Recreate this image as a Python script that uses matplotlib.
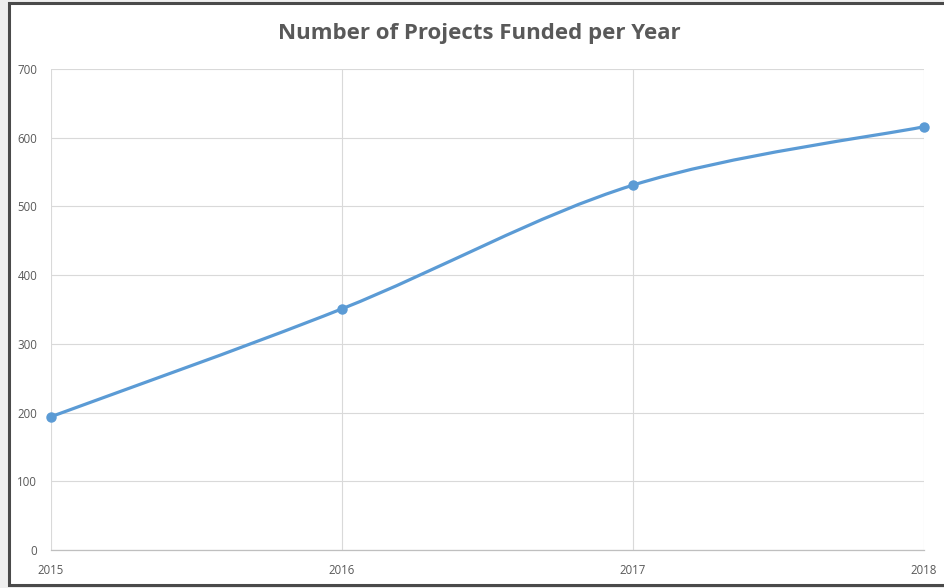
import matplotlib.pyplot as plt
from matplotlib.patches import Rectangle, PathPatch
from matplotlib.path import Path
import numpy as np

years = [2015, 2016, 2017, 2018]
projects = [194, 351, 531, 616]
y_ticks = [0, 100, 200, 300, 400, 500, 600, 700]

line_color = '#5B9BD5'
text_color = '#595959'

plt.rcParams['font.family'] = ['Open Sans', 'DejaVu Sans']

fig = plt.figure(figsize=(9.44, 5.88), dpi=100, facecolor='#efefef')

# dark frame around the chart area (right edge runs off the picture)
frame = Rectangle((9 / 944, 3 / 588), 1.0, 582 / 588, transform=fig.transFigure,
                  facecolor='white', edgecolor='#4a4a4a', linewidth=2.2, zorder=-10)
fig.add_artist(frame)

ax = fig.add_axes([51 / 944, 1 - 550 / 588, (924 - 51) / 944, (550 - 69) / 588])
ax.set_zorder(5)
ax.set_facecolor('white')
ax.set_xlim(years[0], years[-1])
ax.set_ylim(0, 700)
ax.set_xticks(years)
ax.set_yticks(y_ticks)
ax.grid(True, color='#d9d9d9', linewidth=0.8)
ax.set_axisbelow(True)
for side in ['left', 'right', 'top']:
    ax.spines[side].set_visible(False)
ax.spines['bottom'].set_color('#bfbfbf')
ax.spines['bottom'].set_linewidth(0.9)
ax.tick_params(length=0, labelsize=8.3, labelcolor=text_color)
ax.tick_params(axis='x', pad=10)
ax.tick_params(axis='y', pad=10)

# smoothed line like Excel (bezier segments through the data points)
x = np.array(years, dtype=float)
y = np.array(projects, dtype=float)
pts = np.column_stack([x, y])
verts = [pts[0]]
codes = [Path.MOVETO]
n = len(pts)
for i in range(n - 1):
    p0 = pts[max(i - 1, 0)]
    p1 = pts[i]
    p2 = pts[i + 1]
    p3 = pts[min(i + 2, n - 1)]
    c1 = p1 + (p2 - p0) / 6
    c2 = p2 - (p3 - p1) / 6
    verts += [c1, c2, p2]
    codes += [Path.CURVE4] * 3
curve = PathPatch(Path(verts, codes), facecolor='none', edgecolor=line_color,
                  linewidth=2.3, capstyle='round', zorder=3, clip_on=False)
ax.add_patch(curve)
ax.plot(years, projects, linestyle='none', marker='o', markersize=6.5,
        color=line_color, zorder=4, clip_on=False)

fig.text(0.508, 1 - 33 / 588, 'Number of Projects Funded per Year', ha='center', va='center',
         fontsize=16, color=text_color, fontweight='bold')

fig.savefig('out.png', dpi=100, facecolor=fig.get_facecolor())
